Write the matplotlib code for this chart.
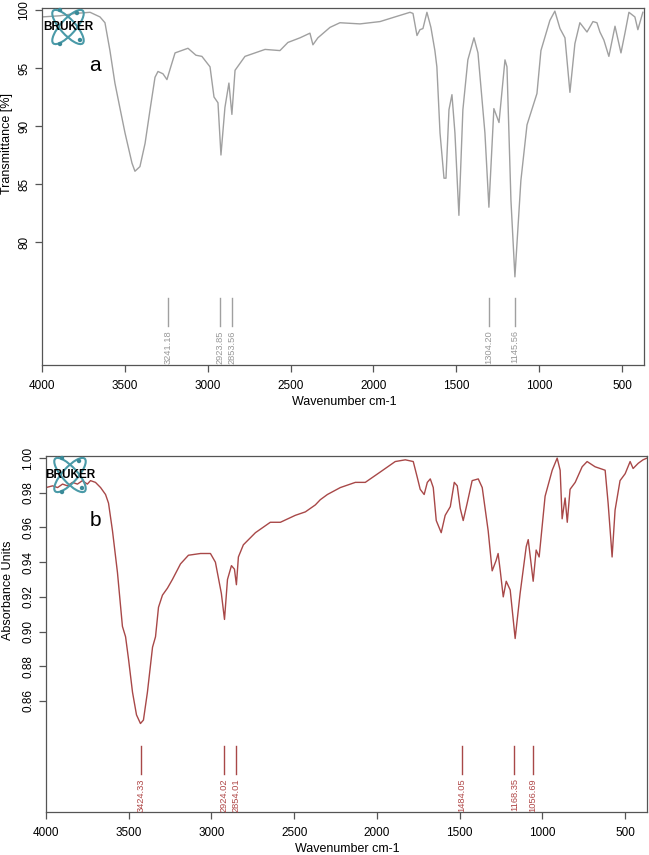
"""
FTIR spectra of two samples (a: transmittance, b: absorbance units)
redrawn in the style of the Bruker OPUS printout
"""

import matplotlib
matplotlib.use('Agg')
import matplotlib.pyplot as plt
from matplotlib.patches import Ellipse, Circle

plt.rcParams['font.family'] = ['Liberation Sans', 'DejaVu Sans']

# Spectrum a (wavenumber cm-1, transmittance %)
wave_a = [4000, 3891, 3801, 3710, 3680, 3650, 3620, 3590, 3560, 3529, 3499,
          3457, 3439, 3409, 3378, 3348, 3318, 3300, 3270, 3246, 3225, 3197,
          3119, 3071, 3035, 2986, 2962, 2938, 2920, 2896, 2872, 2854, 2835,
          2775, 2654, 2564, 2516, 2443, 2383, 2365, 2335, 2262, 2202, 2081,
          1960, 1870, 1779, 1761, 1737, 1719, 1701, 1677, 1653, 1629, 1617,
          1598, 1574, 1562, 1544, 1526, 1508, 1484, 1460, 1430, 1393, 1369,
          1327, 1303, 1273, 1242, 1206, 1194, 1170, 1146, 1110, 1073, 1013,
          989, 935, 905, 874, 844, 814, 784, 754, 711, 675, 651, 633, 609,
          579, 542, 506, 482, 458, 422, 404, 374]
trans_a = [99.4, 99.5, 99.7, 99.8, 99.6, 99.4, 98.9, 96.5, 93.7, 91.5, 89.4,
           86.8, 86.1, 86.5, 88.5, 91.4, 94.2, 94.7, 94.5, 94.0, 95.0, 96.3,
           96.7, 96.1, 96.0, 95.1, 92.5, 92.0, 87.5, 91.6, 93.7, 91.0, 94.8,
           96.0, 96.6, 96.5, 97.2, 97.6, 98.0, 97.0, 97.6, 98.5, 98.9, 98.8,
           99.0, 99.4, 99.8, 99.7, 97.8, 98.3, 98.4, 99.8, 98.5, 96.5, 95.1,
           89.4, 85.5, 85.5, 91.4, 92.7, 89.4, 82.3, 91.4, 95.7, 97.6, 96.3,
           89.4, 83.0, 91.5, 90.3, 95.7, 95.1, 83.6, 77.0, 85.3, 90.1, 92.8,
           96.5, 99.1, 99.9, 98.4, 97.6, 92.9, 97.1, 98.9, 98.1, 99.0, 98.9,
           98.1, 97.4, 96.0, 98.6, 96.3, 98.0, 99.8, 99.4, 98.3, 99.8]
peaks_a = ['3241.18', '2923.85', '2853.56', '1304.20', '1145.56']

# Spectrum b (wavenumber cm-1, absorbance units)
wave_b = [4000, 3960, 3930, 3900, 3870, 3840, 3810, 3780, 3750, 3731, 3701,
          3670, 3640, 3622, 3598, 3568, 3538, 3519, 3501, 3477, 3453, 3429,
          3411, 3387, 3356, 3338, 3320, 3296, 3266, 3236, 3187, 3139, 3066,
          3006, 2976, 2958, 2940, 2921, 2903, 2879, 2861, 2849, 2837, 2807,
          2734, 2644, 2583, 2493, 2432, 2372, 2342, 2299, 2221, 2130, 2070,
          1979, 1889, 1828, 1780, 1756, 1738, 1714, 1695, 1677, 1659, 1641,
          1611, 1587, 1556, 1532, 1514, 1496, 1478, 1454, 1424, 1387, 1363,
          1327, 1303, 1279, 1267, 1254, 1236, 1218, 1194, 1164, 1134, 1097,
          1085, 1055, 1037, 1019, 983, 940, 910, 892, 880, 862, 849, 832, 801,
          759, 729, 681, 620, 602, 584, 578, 560, 530, 499, 469, 451, 420,
          391, 367]
abs_b = [0.983, 0.984, 0.983, 0.985, 0.984, 0.986, 0.985, 0.987, 0.985, 0.987,
         0.986, 0.983, 0.979, 0.974, 0.958, 0.934, 0.903, 0.897, 0.884, 0.865,
         0.852, 0.847, 0.849, 0.865, 0.891, 0.897, 0.914, 0.921, 0.925, 0.930,
         0.939, 0.944, 0.945, 0.945, 0.940, 0.931, 0.922, 0.907, 0.930, 0.938,
         0.936, 0.927, 0.943, 0.950, 0.957, 0.963, 0.963, 0.967, 0.969, 0.973,
         0.976, 0.979, 0.983, 0.986, 0.986, 0.992, 0.998, 0.999, 0.998, 0.989,
         0.982, 0.979, 0.986, 0.988, 0.983, 0.964, 0.957, 0.967, 0.972, 0.986,
         0.984, 0.971, 0.964, 0.974, 0.987, 0.988, 0.983, 0.958, 0.935, 0.941,
         0.945, 0.935, 0.920, 0.929, 0.924, 0.896, 0.922, 0.949, 0.953, 0.929,
         0.947, 0.943, 0.978, 0.993, 1.000, 0.993, 0.965, 0.977, 0.963, 0.982,
         0.986, 0.995, 0.998, 0.995, 0.993, 0.974, 0.951, 0.943, 0.970, 0.987,
         0.991, 0.998, 0.994, 0.997, 0.999, 1.000]
peaks_b = ['3424.33', '2924.02', '2854.01', '1484.05', '1168.35', '1056.69']

W, H = 649, 855
fig = plt.figure(figsize=(W / 100, H / 100), dpi=100)


def px_axes(x0, y0, x1, y1, **kw):
    # axes from pixel box (top-left origin)
    return fig.add_axes([x0 / W, 1 - y1 / H, (x1 - x0) / W, (y1 - y0) / H], **kw)


def style(ax):
    for s in ax.spines.values():
        s.set_color('#555555')
        s.set_linewidth(0.9)
    ax.tick_params(direction='out', length=5, width=0.9, color='#555555',
                   labelsize=8.5)
    ax.tick_params(axis='x', pad=6)
    for lab in ax.get_yticklabels():
        lab.set_rotation(90)
        lab.set_va('center')


def logo(cx, cy):
    lax = px_axes(cx - 24, cy - 20, cx + 24, cy + 20)
    lax.set_xlim(-24, 24)
    lax.set_ylim(-20, 20)
    lax.patch.set_alpha(0)
    lax.axis('off')
    for ang in (48, -48):
        lax.add_patch(Ellipse((0, 0), 44, 15, angle=ang, fill=False,
                              ec='#4a9aa8', lw=1.5))
    for px, py in [(-8, 17), (9, 14), (-8, -17), (12, -13)]:
        lax.add_patch(Circle((px, py), 1.5, color='#3a8a98'))
    fig.text((cx + 0.5) / W, 1 - (cy + 0.5) / H, 'BRUKER', ha='center',
             va='center', fontsize=8.5, fontweight='bold', color='black')


# ---- panel a ----
ax1 = px_axes(42, 8, 644, 365)
ax1.plot(wave_a, trans_a, color='#a0a0a0', lw=1.0)
ax1.set_xlim(4000, 367)
ax1.set_ylim(69.4, 100.17)
ax1.set_xticks([4000, 3500, 3000, 2500, 2000, 1500, 1000, 500])
ax1.set_yticks([80, 85, 90, 95, 100])
ax1.set_xlabel('Wavenumber cm-1', fontsize=9)
ax1.xaxis.set_label_coords(0.503, -0.088)
ax1.set_ylabel('Transmittance [%]', fontsize=9)
ax1.yaxis.set_label_coords(-0.048, 0.62)
style(ax1)
for p in peaks_a:
    w = float(p)
    ax1.plot([w, w], [72.8, 75.2], color='#a0a0a0', lw=1.0)
    ax1.text(w, 72.4, p, rotation=90, ha='center', va='top', fontsize=6.7,
             color='#999999')
ax1.text(0.088, 0.84, 'a', transform=ax1.transAxes, fontsize=15,
         ha='center', va='center')

# ---- panel b ----
ax2 = px_axes(46, 456, 647, 812)
ax2.plot(wave_b, abs_b, color='#a84848', lw=1.0)
ax2.set_xlim(4000, 367)
ax2.set_ylim(0.796, 1.0012)
ax2.set_xticks([4000, 3500, 3000, 2500, 2000, 1500, 1000, 500])
ax2.set_yticks([0.86, 0.88, 0.90, 0.92, 0.94, 0.96, 0.98, 1.00])
ax2.set_yticklabels(['0.86', '0.88', '0.90', '0.92', '0.94', '0.96',
                     '0.98', '1.00'])
ax2.set_xlabel('Wavenumber cm-1', fontsize=9)
ax2.xaxis.set_label_coords(0.502, -0.088)
ax2.set_ylabel('Absorbance Units', fontsize=9)
ax2.yaxis.set_label_coords(-0.054, 0.624)
style(ax2)
for p in peaks_b:
    w = float(p)
    ax2.plot([w, w], [0.818, 0.834], color='#a84848', lw=1.0)
    ax2.text(w, 0.8155, p, rotation=90, ha='center', va='top', fontsize=6.7,
             color='#b04848')
ax2.text(0.082, 0.82, 'b', transform=ax2.transAxes, fontsize=15,
         ha='center', va='center')

logo(68, 27)
logo(70, 475)

fig.savefig('out.png', dpi=100)
